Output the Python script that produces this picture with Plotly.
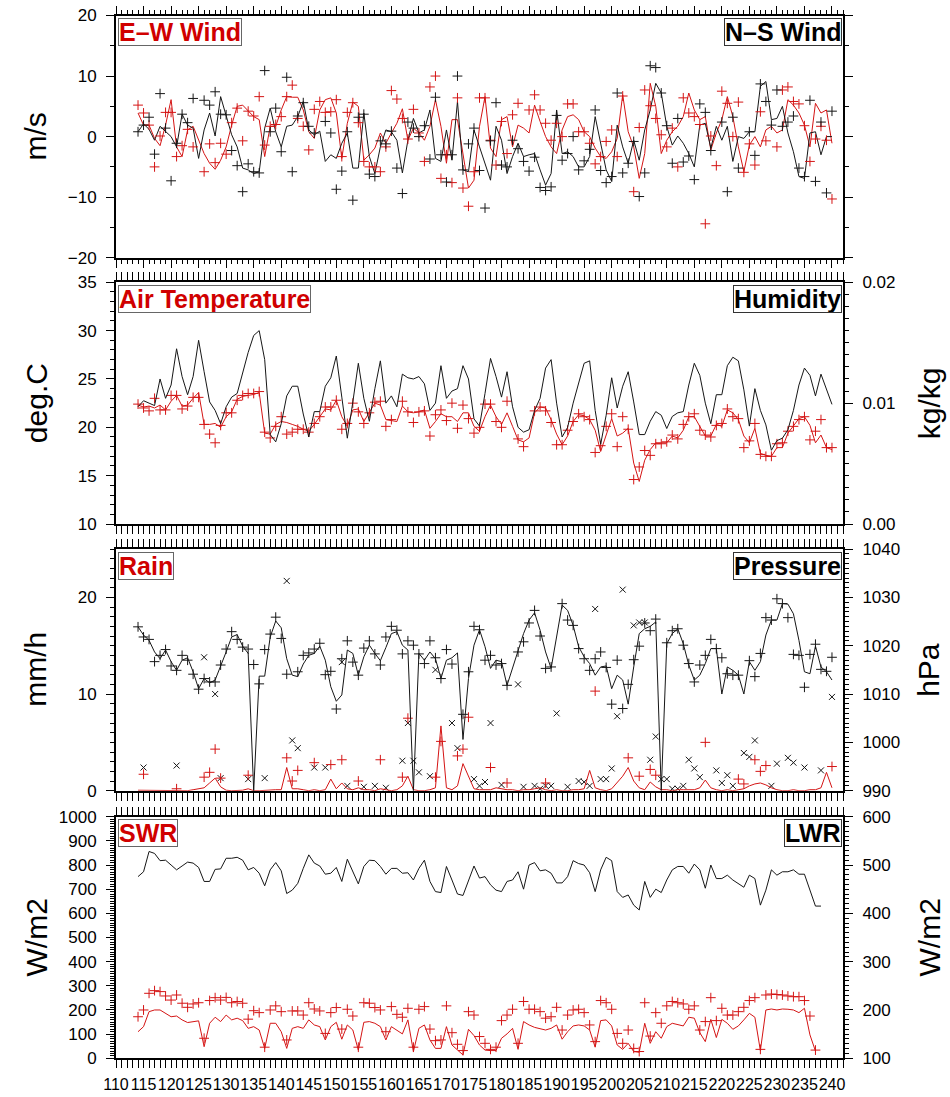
import plotly.graph_objects as go

# ---------------- data (day of year 114..240) ----------------
days = list(range(114, 241))

ew_model = [
    3.9, 1.9, 1.9, -0.3, -1.5, 1.9, 6.1, -1.7, -3.3, 1.1,
    1.7, -0.6, -2.8, -4.4, -5.4, -3.9, -1.7, 1.9, 5.0, 5.2,
    4.2, 3.3, 2.8, -3.3, 1.7, 1.7, 4.4, 6.6, 6.5, 6.5,
    4.4, 0.8, -0.3, 4.4, 6.1, 6.4, 3.9, -3.6, 2.2, 5.7,
    5.0, -3.9, -3.0, -1.9, 0.6, -1.1, 0.6, 2.2, 4.6, -0.6,
    1.4, 0.6, -0.6, 1.7, 6.1, 1.7, -4.4, 2.8, 2.8, -3.0,
    -8.5, -7.2, 1.7, 6.6, -1.9, -3.3, 2.8, 3.3, -1.7, 1.9,
    1.4, 0.6, 5.2, 2.5, 0.0, -1.7, -2.8, 1.1, 3.3, 3.6,
    2.8, 0.8, 0.0, -1.9, -3.3, -3.6, -2.5, -0.3, 6.9, 0.8,
    -1.7, -6.9, -2.8, 8.8, 5.0, -2.8, -0.6, 0.8, 1.7, 3.3,
    7.2, 4.4, 2.8, 3.3, -2.2, 0.6, 2.8, 6.6, 3.3, -1.7,
    -5.8, -1.4, 0.0, -1.7, 1.1, 1.7, 0.6, 1.1, 6.1, 5.2,
    3.9, 1.9, -1.7, 5.5, 3.9, 4.4, -1.1]

ns_model = [
    0.8, 2.1, 1.2, -0.6, 1.7, 0.9, 0.0, -1.7, 3.7, 1.9,
    1.4, -3.6, 1.1, 3.9, 0.1, 6.6, 3.6, 0.3, -1.7, -5.2,
    -5.5, -6.1, -5.8, 1.4, 4.7, 0.8, -1.7, 1.7, 1.9, 3.3,
    5.8, 1.1, 0.3, 0.9, -4.1, -3.0, -3.6, -1.1, 0.6, -5.2,
    -5.2, 3.9, -3.3, -6.1, -1.7, 1.1, 0.8, -0.6, -6.0, -0.6,
    3.0, 0.6, 1.1, 4.4, -3.6, -4.1, 1.1, -3.9, 5.8, -5.5,
    -5.8, 1.1, -1.7, -4.4, -7.2, 1.7, -0.6, -6.1, -3.3, -1.1,
    -3.3, -3.0, -2.8, -5.5, -8.0, -6.1, 4.4, -2.8, -2.5, -3.3,
    -5.0, -5.0, -3.3, 3.3, -1.1, -5.5, -7.4, 1.9, -1.7, -4.4,
    -0.6, -3.9, 1.1, 4.4, 8.8, 7.2, 1.7, -1.4, 0.1, -1.1,
    -2.8, -5.0, 1.9, 2.2, -1.9, 1.7, -0.6, 1.7, -4.1, 0.0,
    -0.3, 0.8, 0.8, 8.3, 9.1, 2.8, 3.0, 5.0, 0.6, -2.5,
    -6.6, -6.9, 0.6, 0.8, -3.0, 0.0, 0.0]

ew_obs = [
    5.2, 3.9, 1.9, -5.0, 0.1, 4.0, 4.0, -3.3, -1.5, 1.2,
    -1.7, None, -5.8, -1.2, -4.3, -1.1, -2.9, 2.3, 4.7, -0.7,
    4.2, 3.4, 6.6, -1.4, 1.7, 2.0, 3.3, 6.6, 8.5, 3.0,
    1.7, -2.2, 4.5, 5.8, 4.0, 4.1, 6.1, -3.3, 4.0, 5.6,
    2.3, -4.1, -5.0, -5.0, -5.8, -1.7, 7.6, 6.2, 3.0, -0.4,
    4.5, 0.6, -4.1, 8.2, 10.0, -6.9, -3.0, -7.6, 6.4, -8.5,
    -11.5, -5.8, 6.4, 6.4, -0.6, -4.7, 2.5, -2.8, 3.6, 5.5,
    None, 4.4, 6.9, 4.4, 2.2, -0.6, 2.2, 0.0, 5.4, 5.4,
    0.8, 0.8, -1.1, -4.5, -3.3, -0.8, 1.1, -3.3, 6.7, None,
    -9.1, 1.5, 7.7, 5.1, 3.0, 0.3, -1.7, 1.4, -5.0, 6.4,
    3.9, 3.3, 2.0, -14.4, 0.1, -4.8, 7.5, 5.5, 0.0, 5.7,
    -5.9, -1.2, -4.7, 4.1, -0.7, None, -1.7, 7.7, 8.2, 5.8,
    5.4, 1.8, -4.1, -0.4, 1.7, -0.6, -10.3]

ns_obs = [
    0.8, 1.9, 3.2, -2.9, 7.1, 1.4, -7.3, -1.1, 3.7, 2.3,
    6.3, None, 6.0, 5.2, 7.4, 3.7, 3.6, -2.3, -4.8, -9.1,
    -4.5, -5.8, -6.0, 10.9, 0.8, 4.7, -2.5, 9.8, -5.8, 3.4,
    5.6, 1.7, 0.6, None, 2.5, 0.6, -8.7, -5.7, 0.8, -10.5,
    3.2, 3.7, -6.2, -6.6, -0.7, -1.2, 0.9, -5.2, -9.4, 2.4,
    1.4, 0.0, 1.8, -3.7, 6.5, -3.0, -7.5, -3.0, 10.0, -5.5,
    -1.2, 1.4, -5.6, -11.8, -0.7, 5.6, -4.7, -5.0, -0.6, -2.0,
    -4.1, -5.7, -3.4, -8.4, -8.9, -8.3, 3.5, -3.9, -2.8, 0.0,
    -5.5, -4.0, -2.1, 4.4, -5.6, -7.6, -6.6, 7.2, -6.0, -4.4,
    -0.8, -9.9, -6.0, 11.7, 11.4, 7.2, 1.8, -4.4, 3.0, -4.2,
    -3.2, -7.1, 5.4, 4.0, -2.3, None, 2.4, -9.1, 3.2, -5.2,
    None, 0.8, -3.1, 8.7, 5.8, 1.9, 7.7, 1.7, 2.4, 3.4,
    -5.2, -6.6, 6.0, -7.4, 2.4, -9.3, 4.2]

air_model = [
    22.3, 22.1, 22.2, 22.0, 22.3, 21.8, 22.7, 23.3, 22.2, 22.3,
    23.0, 23.6, 20.3, 20.3, 20.4, 20.0, 21.1, 21.6, 22.9, 23.2,
    23.3, 23.4, 23.6, 19.4, 19.3, 20.3, 20.6, 20.5, 20.3, 20.1,
    19.8, 19.6, 20.3, 21.1, 21.9, 21.8, 22.8, 21.1, 20.1, 21.8,
    21.9, 20.6, 21.5, 22.5, 22.3, 20.8, 20.7, 20.6, 22.2, 21.6,
    21.5, 21.6, 21.8, 19.9, 20.6, 21.4, 21.1, 21.1, 20.6, 21.5,
    21.5, 20.1, 19.6, 21.1, 22.3, 21.1, 20.3, 21.5, 20.1, 18.7,
    18.5, 18.9, 21.5, 22.1, 22.0, 20.8, 19.3, 18.2, 19.1, 20.6,
    21.3, 21.2, 20.8, 19.7, 17.5, 19.1, 20.9, 19.1, 19.4, 19.9,
    16.3, 14.4, 16.6, 17.7, 18.4, 18.4, 18.4, 19.1, 18.9, 19.7,
    21.1, 21.1, 20.1, 19.1, 19.1, 20.3, 20.1, 21.8, 21.5, 20.8,
    19.1, 18.4, 19.9, 17.3, 17.1, 17.0, 17.9, 17.9, 19.4, 20.1,
    20.9, 21.1, 20.2, 18.4, 19.2, 17.9, 17.7]

air_obs = [
    22.4, 22.0, 21.7, 23.0, 21.8, 21.8, 23.3, 23.3, 21.9, 22.2,
    23.1, 23.1, 20.3, 19.3, 18.4, 20.2, 21.5, 21.5, 22.8, 23.3,
    23.5, 23.5, 23.7, 19.5, 18.9, 20.1, 21.1, 19.3, 19.5, 19.8,
    19.8, 19.5, 20.4, 21.1, 22.1, 22.1, 22.8, 19.8, 20.4, 22.5,
    21.6, 20.4, 21.5, 22.6, 22.7, 20.1, 20.8, None, 22.7, 21.6,
    20.5, 21.6, 21.7, 19.1, 21.3, 21.8, 20.7, 22.5, 19.9, 22.3,
    20.9, 19.4, 20.0, 22.4, 22.4, 20.6, 20.0, 22.7, None, 18.8,
    18.0, None, 21.7, 22.1, 21.7, 20.5, 18.2, 18.2, 19.7, 20.6,
    21.4, 21.1, 20.8, 17.4, 18.1, 20.1, 21.4, 18.0, 21.1, 19.8,
    14.6, 15.9, 17.6, 17.1, 18.3, 18.3, 18.5, 19.2, 18.8, 20.3,
    21.1, 21.4, 19.7, 19.2, 19.0, 20.2, 20.4, 21.9, 21.1, 20.9,
    17.9, 18.6, 20.4, 17.2, 17.0, 17.0, 18.3, 18.4, 19.6, 20.1,
    20.8, 21.1, 18.7, 19.6, 20.8, 17.9, 17.9]

humidity = [
    0.0097, 0.0102, 0.0100, 0.0098, 0.0120, 0.0104, 0.0115, 0.0145, 0.0122, 0.0107,
    0.0122, 0.0152, 0.0126, 0.0101, 0.0094, 0.0083, 0.0097, 0.0105, 0.0108, 0.0126,
    0.0142, 0.0156, 0.0160, 0.0136, 0.0074, 0.0068, 0.0083, 0.0106, 0.0114, 0.0114,
    0.0091, 0.0072, 0.0093, 0.0093, 0.0114, 0.0121, 0.0139, 0.0105, 0.0071, 0.0101,
    0.0133, 0.0104, 0.0085, 0.0112, 0.0135, 0.0100, 0.0106, 0.0097, 0.0124, 0.0121,
    0.0120, 0.0122, 0.0116, 0.0094, 0.0100, 0.0131, 0.0104, 0.0110, 0.0112, 0.0131,
    0.0120, 0.0087, 0.0081, 0.0108, 0.0137, 0.0122, 0.0105, 0.0126, 0.0097, 0.0080,
    0.0076, 0.0078, 0.0094, 0.0104, 0.0129, 0.0136, 0.0100, 0.0072, 0.0080, 0.0100,
    0.0116, 0.0133, 0.0135, 0.0094, 0.0066, 0.0090, 0.0121, 0.0096, 0.0114, 0.0126,
    0.0101, 0.0074, 0.0074, 0.0085, 0.0093, 0.0090, 0.0079, 0.0089, 0.0092, 0.0093,
    0.0115, 0.0133, 0.0123, 0.0100, 0.0083, 0.0107, 0.0107, 0.0131, 0.0138, 0.0135,
    0.0111, 0.0081, 0.0112, 0.0094, 0.0082, 0.0061, 0.0069, 0.0071, 0.0078, 0.0094,
    0.0115, 0.0129, 0.0123, 0.0106, 0.0124, 0.0112, 0.0099]

pres_model = [
    1023.9, 1022.2, 1021.1, 1018.7, 1017.3, 1019.1, 1016.7, 1014.9, 1017.0, 1017.5,
    1014.6, 1011.1, 1013.2, 1012.3, 1012.9, 1015.6, 1018.7, 1021.8, 1022.3, 1019.9,
    1018.4, 990.0, 1013.7, 1013.7, 1021.8, 1025.1, 1023.7, 1017.3, 1013.9, 1013.6,
    1016.2, 1018.0, 1018.4, 1019.9, 1017.0, 1011.5, 1008.5, 1009.8, 1019.1, 1018.4,
    1013.9, 1017.7, 1020.1, 1018.4, 1016.9, 1019.6, 1022.5, 1022.9, 1020.1, 1019.1,
    990.0, 1018.4, 1017.0, 1018.7, 1017.3, 1013.2, 1017.0, 1017.5, 1018.5, 1000.6,
    1013.2, 1020.1, 1023.3, 1019.8, 1015.3, 1017.0, 1016.7, 1011.8, 1015.3, 1019.1,
    1022.5, 1025.3, 1026.8, 1023.2, 1018.7, 1015.3, 1021.8, 1028.4, 1027.3, 1024.2,
    1019.8, 1017.7, 1016.3, 1013.9, 1015.6, 1015.8, 1011.1, 1013.9, 1012.9, 1007.9,
    1015.6, 1022.5, 1023.5, 1024.0, 1024.9, 990.0, 1020.4, 1022.5, 1023.5, 1020.4,
    1016.0, 1012.9, 1013.9, 1016.3, 1019.4, 1019.4, 1010.0, 1015.6, 1014.9, 1013.9,
    1010.0, 1016.7, 1014.9, 1016.7, 1022.2, 1025.3, 1025.3, 1028.7, 1028.6, 1026.6,
    1021.1, 1014.6, 1014.2, 1019.9, 1015.6, 1014.6, 1012.9]

pres_obs = [
    1023.9, 1021.8, 1021.3, 1016.7, 1018.0, 1019.2, 1015.8, 1014.9, 1018.0, 1017.0,
    1014.1, 1011.0, 1013.2, 1012.5, 1012.5, 1016.0, 1019.3, 1022.9, 1021.3, 1019.7,
    1019.3, 1016.1, 1012.1, 1019.2, 1022.4, 1025.9, 1021.5, 1014.1, None, 1014.6,
    1018.0, 1018.5, 1019.3, 1020.5, 1014.0, 1014.7, 1006.9, 1017.3, 1021.0, 1016.6,
    1013.9, 1019.5, 1021.0, 1018.3, 1016.0, 1021.8, 1024.0, 1023.2, 1018.3, 1021.0,
    1020.1, 1018.3, 1016.3, 1021.0, 1017.5, 1013.2, 1019.2, 1016.2, None, 1005.8,
    1014.6, 1024.0, 1023.3, 1017.0, 1018.0, 1016.0, 1016.3, 1011.8, None, 1018.7,
    1020.8, 1024.7, 1027.3, 1022.0, 1015.3, 1015.6, None, 1028.7, 1025.3, 1024.2,
    1019.4, 1017.3, 1014.9, 1017.3, 1018.7, 1015.5, 1007.9, 1017.0, 1007.0, 1012.0,
    1017.1, 1019.9, 1024.7, 1023.1, 1025.5, None, 1020.6, 1023.1, 1023.5, 1020.1,
    1016.3, 1012.5, 1016.0, 1018.0, 1021.3, 1019.4, 1017.5, 1014.2, 1013.9, 1013.9,
    None, 1016.9, 1013.6, 1018.4, 1025.8, 1025.3, 1029.7, 1028.7, 1025.8, 1018.2,
    1018.0, 1011.4, 1018.2, 1020.3, 1015.1, 1014.7, 1017.6]

rain_model = [
    0.05, 0.05, 0.05, 0.0, 0.0, 0.0, 0.0, 0.05, 0.0, 0.0,
    0.1, 0.2, 0.3, 0.8, 1.3, 0.4, 0.05, 0.0, 0.0, 0.05,
    0.2, 0.0, 0.0, 0.05, 0.05, 0.1, 0.1, 2.4, 0.2, 0.2,
    0.1, 0.0, 0.1, 0.0, 0.1, 1.2, 0.2, 0.8, 0.2, 0.1,
    0.3, 0.1, 0.1, 0.0, 0.2, 0.1, 0.0, 0.1, 0.5, 1.5,
    0.1, 0.0, 0.0, 0.1, 0.3, 6.7, 0.3, 0.1, 0.5, 2.8,
    1.5, 0.2, 0.1, 0.1, 0.1, 0.3, 0.2, 0.1, 0.1, 0.0,
    0.1, 0.1, 0.2, 0.3, 0.1, 0.0, 0.1, 0.0, 0.0, 0.1,
    0.1, 0.2, 2.1, 0.3, 0.1, 0.0, 0.2, 0.8, 1.5, 2.4,
    1.0, 0.3, 0.1, 0.9, 0.4, 0.1, 0.1, 0.0, 0.1, 0.1,
    0.1, 0.1, 0.3, 1.1, 0.3, 0.1, 0.0, 0.1, 0.0, 0.1,
    0.2, 0.5, 0.7, 0.8, 0.6, 0.3, 0.1, 0.0, 0.0, 0.1,
    0.0, 0.0, 0.1, 0.1, 0.3, 1.9, 0.3]

# sparse rain observations: (day, mm/h)
rain_obs_days = [115, 121, 126, 127, 128, 129, 134, 141, 142, 143, 146, 149, 151, 154,
                 158, 162, 163, 168, 169, 172, 173, 174, 178, 181, 188, 197, 203, 205,
                 207, 208, 217, 223, 224, 226, 227, 228, 240]
rain_obs_vals = [1.7, 0.2, 1.4, 1.9, 4.3, 1.3, 1.6, 3.4, 1.0, 2.1, 2.9, 2.7, 3.2, 1.0,
                 3.2, 1.4, 7.5, 1.4, 5.1, 3.6, 4.3, 7.6, 2.4, 0.8, 0.8, 10.3, 3.4, 1.5,
                 2.2, 1.6, 5.0, 1.2, 0.7, 3.2, 2.0, 2.6, 2.5]

rain_x_days = [115, 121, 126, 128, 129, 134, 137, 141, 142, 143, 146, 148, 151, 152,
               155, 157, 159, 162, 163, 164, 165, 167, 168, 171, 172, 175, 176, 177,
               178, 180, 183, 184, 186, 187, 188, 189, 190, 192, 194, 195, 196, 197,
               198, 199, 200, 201, 202, 204, 205, 206, 207, 208, 209, 210, 211, 212,
               213, 214, 215, 216, 219, 220, 221, 222, 224, 225, 226, 229, 230, 232,
               233, 235, 238, 240]
rain_x_vals = [2.4, 2.6, 13.8, 10.0, 1.3, 1.2, 1.3, 21.7, 5.2, 4.4, 2.4, 2.4, 13.3, 0.5,
               0.4, 0.5, 0.3, 3.1, 7.0, 3.1, 1.9, 1.5, 12.5, 7.0, 4.4, 1.2, 0.5, 0.9,
               7.0, 0.6, 11.0, 0.4, 0.5, 0.2, 0.5, 0.5, 8.0, 0.4, 1.0, 0.9, 0.5, 18.8,
               1.2, 1.2, 2.3, 7.7, 20.8, 17.1, 17.4, 17.4, 3.2, 5.6, 1.2, 1.2, 0.2, 0.2,
               0.5, 3.2, 2.3, 1.4, 2.1, 0.8, 1.6, 0.5, 3.9, 3.5, 5.2, 0.5, 2.8, 3.4,
               2.9, 2.4, 2.1, 9.7]

lwr = [
    476, 486, 528, 524, 509, 510, 500, 490, 498, 506,
    504, 495, 466, 466, 491, 492, 514, 514, 516, 510,
    490, 495, 483, 457, 490, 505, 488, 441, 448, 462,
    493, 521, 504, 498, 481, 483, 495, 466, 512, 486,
    461, 497, 510, 509, 497, 481, 493, 493, 483, 484,
    469, 493, 510, 466, 445, 443, 497, 469, 440, 437,
    469, 498, 473, 476, 459, 448, 445, 466, 469, 486,
    450, 500, 505, 488, 490, 483, 463, 463, 476, 509,
    503, 500, 484, 445, 490, 516, 509, 445, 433, 438,
    417, 407, 466, 433, 450, 443, 469, 490, 497, 497,
    483, 502, 490, 452, 500, 472, 472, 479, 469, 461,
    454, 479, 472, 417, 448, 490, 479, 486, 486, 490,
    481, 481, 448, 415, 415, None, None]

swr_model = [
    110, 131, 193, 200, 200, 186, 172, 175, 159, 148,
    152, 155, 48, 145, 170, 152, 179, 159, 166, 156,
    124, 131, 117, 41, 145, 145, 110, 41, 124, 131,
    124, 159, 138, 131, 76, 131, 149, 79, 138, 117,
    34, 149, 152, 145, 131, 76, 131, 117, 101, 159,
    28, 124, 138, 76, 41, 41, 131, 55, 34, 14,
    120, 94, 55, 34, 32, 32, 83, 101, 124, 37,
    152, 138, 128, 124, 117, 124, 138, 79, 110, 134,
    138, 134, 117, 46, 156, 159, 134, 55, 37, 62,
    28, 25, 145, 62, 110, 83, 131, 145, 138, 134,
    170, 166, 106, 69, 161, 86, 161, 145, 120, 134,
    159, 186, 170, 32, 200, 204, 200, 204, 203, 200,
    189, 207, 97, 30, None, None, None]

swr_obs = [
    172, 200, 269, 280, 276, 258, 241, 262, 228, 211,
    225, 230, 83, 239, 251, 241, 252, 230, 235, 228,
    162, 197, 189, 46, 200, 217, 193, 76, 196, 196,
    179, 230, 204, 196, 103, 189, 210, 121, 203, 175,
    46, 230, 228, 210, 200, 110, 214, 182, 170, 207,
    46, 203, 214, 121, 73, 76, 217, 106, 58, 32,
    193, 179, 90, 62, 37, 46, 156, 179, 203, 62,
    235, 203, 203, 193, 166, 172, 211, 117, 179, 200,
    203, 189, 138, 69, 239, 230, 203, 103, 62, 117,
    41, 28, 230, 92, 189, 145, 217, 235, 230, 225,
    203, 217, 117, 152, 251, 156, 207, 179, 179, 193,
    211, 239, 251, 37, 262, 266, 264, 262, 258, 255,
    255, 239, 175, 34, None, None, None]

x_ticks = list(range(110, 241, 5))

# ---------------- layout helpers ----------------
W, H = 950, 1097
X0, X1 = 116, 843
PANELS = [(15.5, 257.7), (282.3, 524.0), (549.0, 790.7), (816.7, 1058.3)]
FONT = "Liberation Sans, Arial, Helvetica, sans-serif"
RED = "#d41414"
BLK = "#161616"


def py(p):
    return 1 - p / H


DOMS = [[py(b), py(t)] for t, b in PANELS]

fig = go.Figure()


def add_line(y, color, xa, ya, x=None):
    fig.add_trace(go.Scatter(x=x if x is not None else days, y=y, mode="lines",
                             line=dict(color=color, width=1), xaxis=xa, yaxis=ya,
                             connectgaps=False, hoverinfo="skip"))


def add_marks(y, color, xa, ya, x=None, symbol="cross-thin", size=7):
    fig.add_trace(go.Scatter(x=x if x is not None else days, y=y, mode="markers",
                             marker=dict(symbol=symbol, size=size, color=color,
                                         line=dict(color=color, width=1)),
                             xaxis=xa, yaxis=ya, hoverinfo="skip"))


# panel 1: winds
add_line(ew_model, RED, "x", "y")
add_line(ns_model, BLK, "x", "y")
add_marks(ew_obs, RED, "x", "y")
add_marks(ns_obs, BLK, "x", "y")

# panel 2: air temperature & humidity
add_line(air_model, RED, "x2", "y2")
add_marks(air_obs, RED, "x2", "y2")
add_line(humidity, BLK, "x2", "y3")

# panel 3: rain & pressure
add_marks(rain_x_vals, BLK, "x3", "y4", x=rain_x_days, symbol="x-thin", size=6)
add_marks(rain_obs_vals, RED, "x3", "y4", x=rain_obs_days)
add_line(rain_model, RED, "x3", "y4")
add_marks(pres_obs, BLK, "x3", "y5")
add_line(pres_model, BLK, "x3", "y5")

# panel 4: radiation
add_line(lwr, BLK, "x4", "y7")
add_marks(swr_obs, RED, "x4", "y6")
add_line(swr_model, RED, "x4", "y6")

tickfont = dict(size=17, family=FONT, color="black")
xtickfont = dict(size=16, family=FONT, color="black")


def xaxis(i, labels):
    return dict(domain=[X0 / W, X1 / W], range=[110, 242], anchor="y" if i == 0 else f"y{[1, 2, 4, 6][i]}",
                tickmode="array", tickvals=x_ticks, ticktext=[str(v) for v in x_ticks],
                ticks="outside", ticklen=8, tickwidth=1.3, tickcolor="black",
                showline=True, linewidth=2, linecolor="black", mirror="allticks",
                showgrid=False, zeroline=False, showticklabels=labels, tickangle=0,
                tickfont=xtickfont, ticklabelstandoff=2, automargin=False,
                minor=dict(tick0=110, dtick=1, ticks="outside", ticklen=4, tickwidth=1,
                           tickcolor="black", showgrid=False))


def yaxis(dom, rng, dtick, mdtick, anchor, side="left", overlaying=None, mirror=False,
          labels=True, fmt=None, tick0=None):
    d = dict(domain=dom, range=rng, anchor=anchor, side=side, dtick=dtick,
             tick0=tick0 if tick0 is not None else rng[0],
             ticks="outside", ticklen=8, tickwidth=1.3, tickcolor="black",
             showline=True, linewidth=2, linecolor="black", mirror=mirror,
             showgrid=False, zeroline=False, showticklabels=labels,
             tickfont=tickfont, ticklabelstandoff=6, automargin=False,
             minor=dict(dtick=mdtick, tick0=rng[0], ticks="outside", ticklen=4,
                        tickwidth=1, tickcolor="black", showgrid=False))
    if overlaying:
        d["overlaying"] = overlaying
    if fmt:
        d["tickformat"] = fmt
    return d


fig.update_layout(
    width=W, height=H, autosize=False,
    margin=dict(l=0, r=0, t=0, b=0, autoexpand=False),
    paper_bgcolor="white", plot_bgcolor="white",
    showlegend=False,
    font=dict(family=FONT, color="black"),
    xaxis=xaxis(0, False), xaxis2=xaxis(1, False), xaxis3=xaxis(2, False), xaxis4=xaxis(3, True),
    yaxis=yaxis(DOMS[0], [-20, 20], 10, 5, "x", mirror="allticks"),
    yaxis2=yaxis(DOMS[1], [10, 35], 5, 1, "x2"),
    yaxis3=yaxis(DOMS[1], [0, 0.02], 0.01, 0.001, "x2", side="right", overlaying="y2", fmt=".2f"),
    yaxis4=yaxis(DOMS[2], [0, 25], 10, 1, "x3"),
    yaxis5=yaxis(DOMS[2], [990, 1040], 10, 1, "x3", side="right", overlaying="y4"),
    yaxis6=yaxis(DOMS[3], [0, 1000], 100, 10, "x4"),
    yaxis7=yaxis(DOMS[3], [100, 600], 100, 10, "x4", side="right", overlaying="y6"),
)

ann = []
# axis titles
left_titles = ["m/s", "deg.C", "mm/h", "W/m2"]
right_titles = [None, "kg/kg", "hPa", "W/m2"]
for i, (t, b) in enumerate(PANELS):
    yc = py((t + b) / 2)
    ann.append(dict(text=left_titles[i], x=36 / W, y=yc, xref="paper", yref="paper",
                    xanchor="center", yanchor="middle", textangle=-90, showarrow=False,
                    font=dict(size=30, family=FONT, color="black")))
    if right_titles[i]:
        ann.append(dict(text=right_titles[i], x=929 / W, y=yc, xref="paper", yref="paper",
                        xanchor="center", yanchor="middle", textangle=-90, showarrow=False,
                        font=dict(size=30, family=FONT, color="black")))

# panel label boxes
left_labels = ["E\u2013W Wind", "Air Temperature", "Rain", "SWR"]
right_labels = ["N\u2013S Wind", "Humidity", "Pressure", "LWR"]
for i, (t, b) in enumerate(PANELS):
    ytop = py(t + 2.5)
    ann.append(dict(text="<b>" + left_labels[i] + "</b>", x=(X0 + 1.5) / W, y=ytop,
                    xref="paper", yref="paper", xanchor="left", yanchor="top",
                    showarrow=False, bgcolor="white", bordercolor="#666666",
                    borderwidth=1, borderpad=0, height=26,
                    font=dict(size=25, family=FONT, color="#d00000")))
    ann.append(dict(text="<b>" + right_labels[i] + "</b>", x=(X1 - 1.5) / W, y=ytop,
                    xref="paper", yref="paper", xanchor="right", yanchor="top",
                    showarrow=False, bgcolor="white", bordercolor="#333333",
                    borderwidth=1, borderpad=0, height=26,
                    font=dict(size=25, family=FONT, color="black")))

fig.update_layout(annotations=ann)
fig.write_html("out.html", config={"displayModeBar": False},
               post_script="document.body.style.margin='0';document.body.style.overflow='hidden';")
